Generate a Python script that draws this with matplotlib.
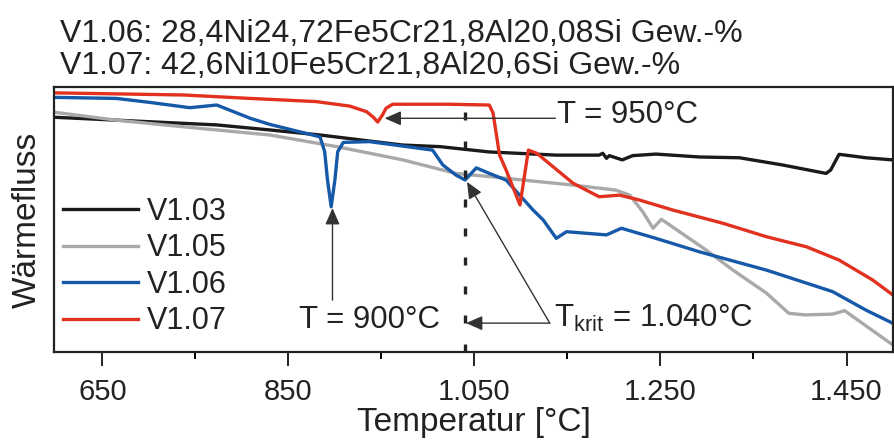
import matplotlib
matplotlib.use("Agg")
import matplotlib.pyplot as plt
from matplotlib.ticker import FuncFormatter

plt.rcParams['font.family'] = ['Liberation Sans', 'DejaVu Sans']
plt.rcParams['mathtext.fontset'] = 'custom'
plt.rcParams['mathtext.rm'] = 'Liberation Sans'
plt.rcParams['mathtext.it'] = 'Liberation Sans'

# DSC curves, temperature in °C, heat flow in arbitrary units
t_v103 = [598, 701, 773, 830, 884, 973, 1013, 1066, 1138, 1184, 1188, 1192, 1195,
          1209, 1220, 1245, 1292, 1335, 1381, 1428, 1433, 1442, 1449, 1471, 1500]
q_v103 = [88.6, 86.9, 85.7, 83.8, 81.9, 78.1, 77.5, 75.5, 74.3, 74.3, 75.0, 73.1, 74.1,
          72.5, 74.1, 74.7, 73.6, 73.3, 70.6, 67.4, 68.7, 74.6, 74.3, 73.3, 72.5]

t_v105 = [598, 665, 737, 830, 902, 973, 1030, 1066, 1102, 1156, 1202, 1217, 1231,
          1242, 1251, 1299, 1328, 1364, 1388, 1406, 1435, 1448, 1500]
q_v105 = [90.5, 87.5, 85.0, 81.9, 77.5, 72.5, 67.4, 66.2, 64.9, 63.0, 61.1, 59.2, 52.9,
          46.7, 50.1, 38.5, 30.9, 22.2, 14.6, 14.0, 14.3, 15.6, 2.6]

t_v106 = [598, 665, 701, 744, 773, 791, 809, 830, 884, 889, 892, 896, 900, 903, 909,
          937, 1005, 1016, 1030, 1040, 1052, 1066, 1084, 1113, 1124, 1138, 1149, 1192,
          1208, 1245, 1292, 1364, 1435, 1471, 1500]
q_v106 = [96.1, 95.7, 94.2, 92.2, 93.2, 90.7, 88.2, 85.9, 81.2, 75.6, 65.0, 54.8, 65.0,
          75.6, 79.1, 79.4, 76.2, 70.6, 66.8, 64.9, 69.5, 67.4, 64.9, 53.6, 49.8, 42.9,
          45.4, 44.2, 46.7, 42.9, 37.8, 30.9, 22.8, 15.8, 10.8]

t_v107 = [598, 737, 809, 880, 916, 934, 941, 946, 951, 955, 962, 1023, 1066, 1070,
          1077, 1084, 1099, 1108, 1117, 1156, 1184, 1206, 1227, 1263, 1317, 1364, 1407,
          1442, 1478, 1500]
q_v107 = [97.8, 97.0, 95.7, 94.5, 92.8, 90.7, 88.7, 86.8, 89.4, 92.0, 93.5, 93.5, 93.2,
          90.2, 74.3, 68.7, 55.5, 76.2, 75.0, 63.7, 58.6, 59.2, 57.4, 53.6, 48.6, 43.5,
          39.7, 34.7, 27.2, 21.5]

labels = ['V1.03', 'V1.05', 'V1.06', 'V1.07']
colors = ['#1a1a1a', '#a9a9a9', '#1559a8', '#e2321f']

t_krit = 1040
title_lines = ['V1.06: 28,4Ni24,72Fe5Cr21,8Al20,08Si Gew.-%',
               'V1.07: 42,6Ni10Fe5Cr21,8Al20,6Si Gew.-%']

fig = plt.figure(figsize=(8.94, 4.42), dpi=100)
ax = fig.add_axes([0.0604, 0.2036, 0.9385, 0.5995])

series = [(t_v103, q_v103), (t_v105, q_v105), (t_v106, q_v106), (t_v107, q_v107)]
for (t, q), lab, c in zip(series, labels, colors):
    ax.plot(t, q, color=c, lw=2.4, label=lab, solid_joinstyle='round')

ax.set_xlim(598, 1500)
ax.set_ylim(0, 100)

# critical temperature
ax.plot([t_krit, t_krit], [0, 93.2], color='#222222', lw=2.4, linestyle=(0, (2.4, 6.3)))

arrow = dict(arrowstyle='-|>,head_length=0.5,head_width=0.22', color='#333333',
             lw=1.0, mutation_scale=20, shrinkA=0, shrinkB=0)
fs_ann = 22.5
ax.annotate('', xy=(953.5, 88.2), xytext=(1137, 88.2), arrowprops=arrow)
ax.text(1139, 89.4, 'T = 950°C', fontsize=fs_ann, va='center', ha='left', color='#222222')

ax.annotate('', xy=(897.4, 54.3), xytext=(897.4, 19.6), arrowprops=arrow)
ax.text(937, 12.1, 'T = 900°C', fontsize=fs_ann, va='center', ha='center', color='#222222')

ax.annotate('', xy=(1041, 10.9), xytext=(1131, 10.9), arrowprops=arrow)
ax.annotate('', xy=(1042, 64.2), xytext=(1131, 10.9), arrowprops=arrow)
ax.text(1136, 12.8, r'T$_{\mathrm{krit}}$ = 1.040°C', fontsize=fs_ann, va='center',
        ha='left', color='#222222')

# axes styling
ax.set_xticks([650, 850, 1050, 1250, 1450])
ax.xaxis.set_major_formatter(FuncFormatter(lambda v, p: '{:,.0f}'.format(v).replace(',', '.')))
ax.set_xticks([750, 950, 1150, 1350], minor=True)
ax.tick_params(axis='x', which='major', length=10, width=1.4, labelsize=21, pad=9,
               colors='#222222')
ax.tick_params(axis='x', which='minor', length=5, width=1.4)
ax.set_yticks([])
for s in ax.spines.values():
    s.set_linewidth(1.6)
    s.set_color('#222222')

ax.set_xlabel('Temperatur [°C]', fontsize=24, labelpad=0.5, color='#222222')
ax.set_ylabel('Wärmefluss', fontsize=24, labelpad=8, color='#222222')

ax.legend(loc='upper left', bbox_to_anchor=(0.0107, 0.586), frameon=False, fontsize=22,
          handlelength=2.45, handletextpad=0.3, labelspacing=0.215, borderpad=0,
          borderaxespad=0, labelcolor='#222222')

fig.text(60 / 894, 1 - 42 / 442, title_lines[0], fontsize=23, va='baseline', color='#222222')
fig.text(60 / 894, 1 - 74 / 442, title_lines[1], fontsize=23, va='baseline', color='#222222')

fig.savefig('out.png', dpi=100)
